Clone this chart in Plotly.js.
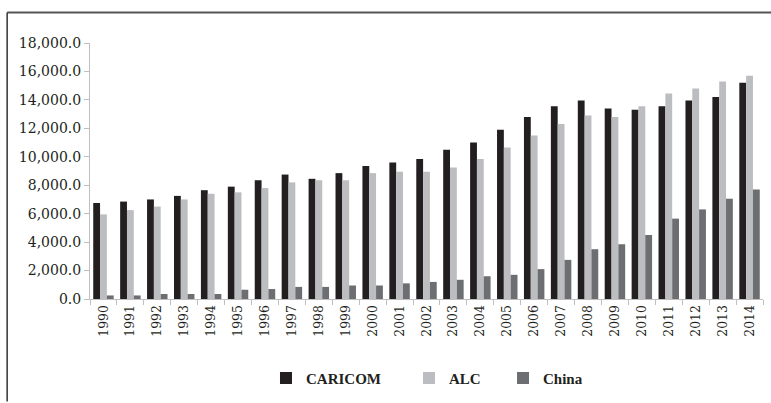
<!DOCTYPE html>
<html>
<head>
<meta charset="utf-8">
<script src="https://cdn.plot.ly/plotly-3.0.1.min.js"></script>
<style>html,body{margin:0;padding:0;background:#fff;}#chart{width:771px;height:403px;}</style>
</head>
<body>
<div id="chart"></div>
<script>
const years = ["1990","1991","1992","1993","1994","1995","1996","1997","1998","1999","2000","2001","2002","2003","2004","2005","2006","2007","2008","2009","2010","2011","2012","2013","2014"];
const caricom = [6750,6850,7000,7250,7650,7900,8350,8750,8450,8850,9350,9600,9850,10500,11000,11900,12800,13550,13950,13400,13300,13550,13950,14200,15200];
const alc = [5950,6250,6500,7000,7400,7500,7800,8200,8350,8350,8850,8950,8950,9250,9850,10650,11500,12300,12900,12800,13550,14450,14800,15300,15700];
const china = [250,250,350,350,350,650,700,850,850,950,950,1100,1200,1350,1600,1700,2100,2750,3500,3850,4500,5650,6300,7050,7700];
const seriesNames = ["CARICOM","ALC","China"];
const seriesColors = ["#231f20","#bcbdc0","#6d6e71"];
const legendIds = ["legend","legend2","legend3"];

const serif = "'Liberation Serif', 'Times New Roman', serif";
const tickSerif = "'DejaVu Serif', serif";
const data = [caricom, alc, china].map((vals, i) => ({
  type: "bar",
  name: seriesNames[i],
  x: years,
  y: vals,
  legend: legendIds[i],
  marker: {color: seriesColors[i], line: {width: 0}}
}));

function leg(x) {
  return {orientation: "h", x: x, xanchor: "left", y: -0.31, yanchor: "middle",
          font: {family: serif, size: 15, color: "#231f20", weight: "bold"},
          itemwidth: 30, bgcolor: "rgba(0,0,0,0)"};
}

const layout = {
  width: 771, height: 403,
  margin: {l: 90, r: 8, t: 43, b: 100, pad: 0},
  paper_bgcolor: "#fff", plot_bgcolor: "#fff",
  font: {family: serif},
  barmode: "group", bargap: 0.24, bargroupgap: 0,
  showlegend: true,
  legend: leg(0.2615),
  legend2: leg(0.474),
  legend3: leg(0.6137),
  xaxis: {type: "category", showline: true, linecolor: "#bfbfbf", linewidth: 1,
          ticks: "outside", tickson: "boundaries", ticklen: 5, tickcolor: "#bfbfbf",
          tickangle: -90, showgrid: false, zeroline: false,
          tickfont: {family: tickSerif, size: 12.5, color: "#231f20"}},
  yaxis: {range: [0, 18000], tickvals: [0,2000,4000,6000,8000,10000,12000,14000,16000,18000],
          tickformat: ",.1f", showline: true, linecolor: "#bfbfbf", linewidth: 1,
          ticks: "outside", ticklen: 5, tickcolor: "#bfbfbf", showgrid: false, zeroline: false,
          tickfont: {family: tickSerif, size: 14, color: "#231f20"}},
  shapes: [
    {type: "line", xref: "paper", yref: "paper", x0: -0.1231, x1: 1.02, y0: 1.1193, y1: 1.1193,
     line: {color: "#555555", width: 2}},
    {type: "line", xref: "paper", yref: "paper", x0: -0.1231, x1: -0.1231, y0: 1.1193, y1: -0.40,
     line: {color: "#333333", width: 1.5}}
  ]
};
Plotly.newPlot("chart", data, layout, {displayModeBar: false, staticPlot: true});
</script>
</body>
</html>
